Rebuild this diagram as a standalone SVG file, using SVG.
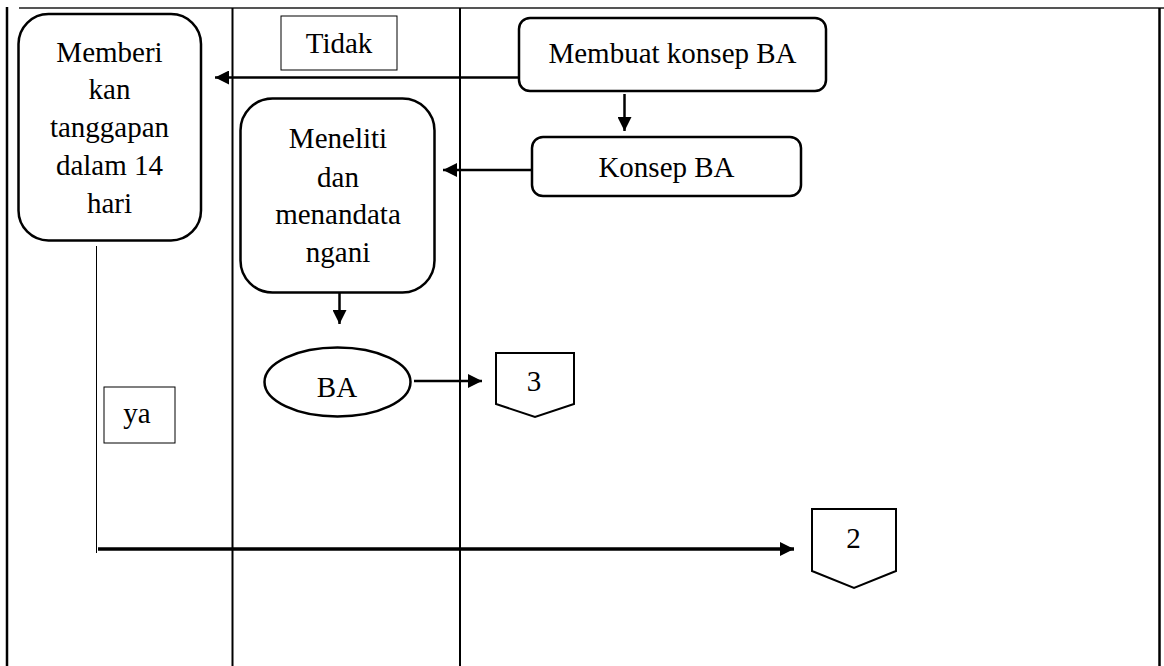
<svg xmlns="http://www.w3.org/2000/svg" width="1164" height="666" viewBox="0 0 1164 666">
<defs>
<marker id="ah" viewBox="0 0 10 10" refX="10" refY="5" markerWidth="15" markerHeight="14" markerUnits="userSpaceOnUse" orient="auto">
<path d="M0,0 L10,5 L0,10 z" fill="#000"/>
</marker>
</defs>
<style>
.t{font-family:'Liberation Serif','Tinos','Times New Roman','Noto Serif','DejaVu Serif',serif;font-size:29px;fill:#000;text-anchor:middle}
.box{fill:#fff;stroke:#000;stroke-width:2.5}
.lbl{fill:#fff;stroke:#000;stroke-width:1}
.lane{stroke:#000;stroke-width:2;fill:none}
.c{stroke:#000;stroke-width:2.5;fill:none}
</style>
<rect width="1164" height="666" fill="#fff"/>
<g id="frame">
<line x1="19" y1="8" x2="1164" y2="8" stroke="#555" stroke-width="2"/>
<line class="lane" x1="7" y1="7" x2="7" y2="666" style="stroke-width:2.5"/>
<line class="lane" x1="1159.5" y1="8" x2="1159.5" y2="666" style="stroke-width:2.5"/>
<line class="lane" x1="232.5" y1="8" x2="232.5" y2="666"/>
<line class="lane" x1="460" y1="8" x2="460" y2="666"/>
</g>
<g id="connectors">
<line class="c" x1="519" y1="77.5" x2="215" y2="77.5" marker-end="url(#ah)"/>
<line class="c" x1="624.5" y1="94" x2="624.5" y2="131" marker-end="url(#ah)"/>
<line class="c" x1="532" y1="170" x2="443" y2="170" marker-end="url(#ah)"/>
<line class="c" x1="339.5" y1="293" x2="339.5" y2="324" marker-end="url(#ah)"/>
<line class="c" x1="414" y1="381" x2="482" y2="381" marker-end="url(#ah)"/>
<line x1="96.5" y1="246" x2="96.5" y2="553" stroke="#000" stroke-width="1"/>
<line x1="98" y1="549" x2="794" y2="549" stroke="#000" stroke-width="3.5" marker-end="url(#ah)"/>
</g>
<g id="memberi">
<rect class="box" x="18.5" y="14" width="182.5" height="226.5" rx="30"/>
<text class="t" x="109.5" y="61.5">Memberi</text>
<text class="t" x="109.5" y="99">kan</text>
<text class="t" x="109.5" y="137">tanggapan</text>
<text class="t" x="109.5" y="175">dalam 14</text>
<text class="t" x="109.5" y="213">hari</text>
</g>
<g id="tidak">
<rect class="lbl" x="281" y="16" width="116" height="54"/>
<text class="t" x="339" y="53">Tidak</text>
</g>
<g id="membuat">
<rect class="box" x="519" y="18" width="307" height="73" rx="11"/>
<text class="t" x="672.5" y="63">Membuat konsep BA</text>
</g>
<g id="konsep">
<rect class="box" x="532" y="137" width="269" height="59" rx="11"/>
<text class="t" x="666.5" y="177">Konsep BA</text>
</g>
<g id="meneliti">
<rect class="box" x="240.5" y="98.5" width="194" height="194" rx="32"/>
<text class="t" x="338" y="148">Meneliti</text>
<text class="t" x="338" y="186.5">dan</text>
<text class="t" x="338" y="223.5">menandata</text>
<text class="t" x="338" y="261.5">ngani</text>
</g>
<g id="ba">
<ellipse class="box" cx="337.5" cy="382" rx="73" ry="34.5"/>
<text class="t" x="337" y="396.5">BA</text>
</g>
<g id="page3">
<path class="box" d="M496,353 L574,353 L574,404 L535,417 L496,404 Z" style="stroke-width:2"/>
<text class="t" x="534" y="390.5">3</text>
</g>
<g id="ya">
<rect class="lbl" x="104" y="387" width="71" height="56"/>
<text class="t" x="137" y="423">ya</text>
</g>
<g id="page2">
<path class="box" d="M812,509 L896,509 L896,571 L854,588 L812,571 Z" style="stroke-width:2"/>
<text class="t" x="853.5" y="548">2</text>
</g>
</svg>
